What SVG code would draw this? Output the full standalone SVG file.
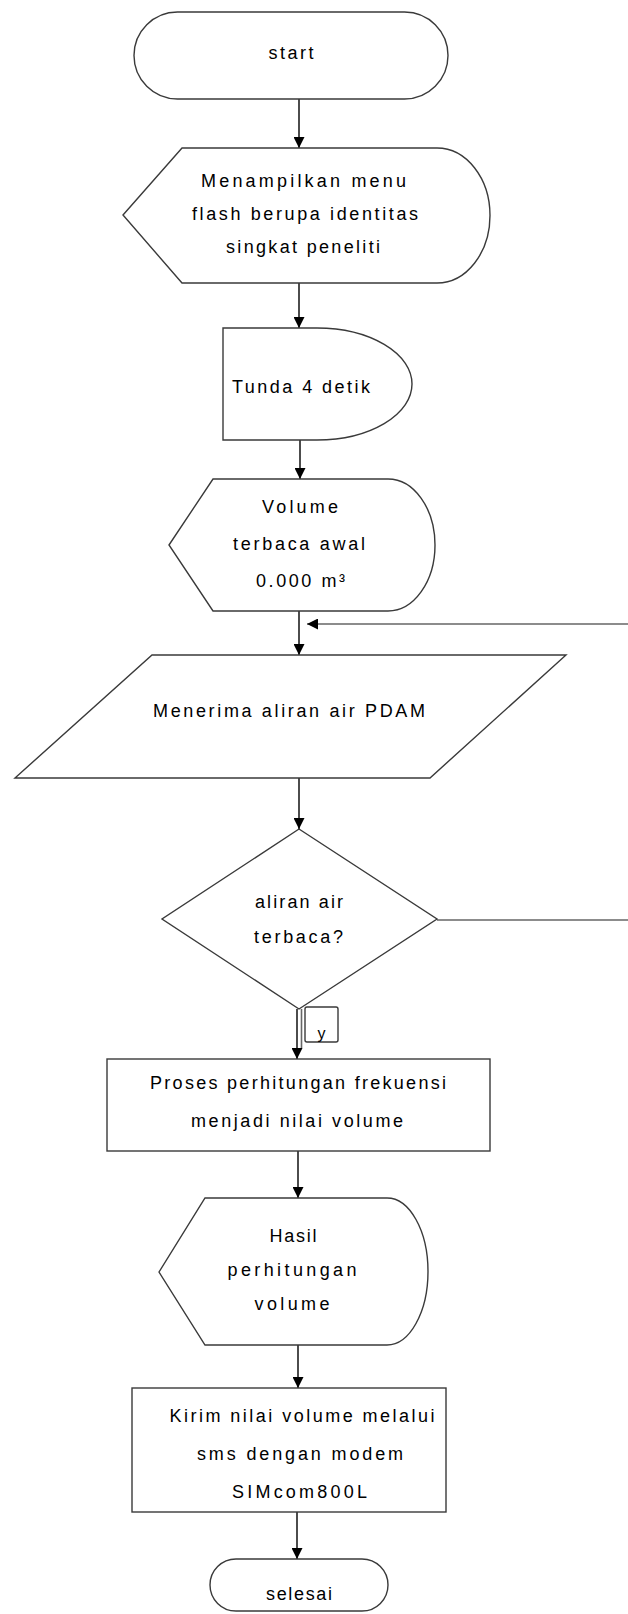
<svg xmlns="http://www.w3.org/2000/svg" width="628" height="1614" viewBox="0 0 628 1614">
<style>
.shape{fill:#fff;stroke:#3a3a3a;stroke-width:1.4}
.conn{fill:none;stroke:#000;stroke-width:1.4}
.grey{fill:none;stroke:#666;stroke-width:1.6}
text{font-family:"Liberation Sans",Arial,sans-serif;font-size:18px;fill:#000;text-anchor:middle}
.l{text-anchor:start}
</style>
<defs>
<marker id="arr" markerUnits="userSpaceOnUse" markerWidth="11" markerHeight="11" refX="11" refY="5.5" orient="auto">
<path d="M0,0 L11,5.5 L0,11 Z" fill="#000"/>
</marker>
</defs>
<rect width="628" height="1614" fill="#fff"/>
<g id="connectors">
<line class="conn" x1="299" y1="99" x2="299" y2="148" marker-end="url(#arr)"/>
<line class="conn" x1="299" y1="283" x2="299" y2="328" marker-end="url(#arr)"/>
<line class="conn" x1="300" y1="440" x2="300" y2="479" marker-end="url(#arr)"/>
<line class="conn" x1="299" y1="611" x2="299" y2="655" marker-end="url(#arr)"/>
<line class="grey" x1="628" y1="624" x2="307" y2="624" marker-end="url(#arr)"/>
<line class="conn" x1="299" y1="778" x2="299" y2="829" marker-end="url(#arr)"/>
<line class="grey" x1="437" y1="920" x2="628" y2="920"/>
<line class="conn" x1="297" y1="1009" x2="297" y2="1059" marker-end="url(#arr)"/>
<line class="grey" x1="301.5" y1="1009" x2="301.5" y2="1048"/>
<line class="conn" x1="298" y1="1151" x2="298" y2="1198" marker-end="url(#arr)"/>
<line class="conn" x1="298" y1="1345" x2="298" y2="1388" marker-end="url(#arr)"/>
<line class="conn" x1="297" y1="1512" x2="297" y2="1559" marker-end="url(#arr)"/>
</g>
<g id="start">
<rect class="shape" x="134" y="12" width="314" height="87" rx="43.5"/>
<text x="291" y="59" textLength="45" lengthAdjust="spacing">start</text>
</g>
<g id="display1">
<path class="shape" d="M123,215 L182,148 L437,148 A53,67.5 0 0 1 437,283 L182,283 Z"/>
<text x="303.5" y="187" textLength="205" lengthAdjust="spacing">Menampilkan menu</text>
<text x="305" y="220" textLength="226" lengthAdjust="spacing">flash berupa identitas</text>
<text x="303" y="253" textLength="154" lengthAdjust="spacing">singkat peneliti</text>
</g>
<g id="delay">
<path class="shape" d="M223,328 L317,328 A95,56 0 0 1 317,440 L223,440 Z"/>
<text class="l" x="232" y="393" textLength="138" lengthAdjust="spacing">Tunda 4 detik</text>
</g>
<g id="display2">
<path class="shape" d="M169,545 L213,479 L388,479 A47,66 0 0 1 388,611 L213,611 Z"/>
<text x="300" y="513" textLength="76" lengthAdjust="spacing">Volume</text>
<text x="299" y="550" textLength="132" lengthAdjust="spacing">terbaca awal</text>
<text x="300.5" y="587" textLength="89" lengthAdjust="spacing">0.000 m³</text>
</g>
<g id="input">
<path class="shape" d="M152,655 L566,655 L430,778 L15,778 Z"/>
<text x="289" y="717" textLength="272" lengthAdjust="spacing">Menerima aliran air PDAM</text>
</g>
<g id="decision">
<path class="shape" d="M299,829 L437,919 L299,1009 L162,919 Z"/>
<text x="299" y="908" textLength="88" lengthAdjust="spacing">aliran air</text>
<text x="298.5" y="943" textLength="89" lengthAdjust="spacing">terbaca?</text>
</g>
<g id="label-y">
<rect class="shape" x="305" y="1007" width="33" height="35" rx="2"/>
<text x="321.5" y="1039" style="font-size:16px">y</text>
</g>
<g id="process">
<rect class="shape" x="107" y="1059" width="383" height="92"/>
<text x="298" y="1089" textLength="296" lengthAdjust="spacing">Proses perhitungan frekuensi</text>
<text x="297" y="1127" textLength="212" lengthAdjust="spacing">menjadi nilai volume</text>
</g>
<g id="display3">
<path class="shape" d="M159,1272 L205,1198 L387,1198 A41,73.5 0 0 1 387,1345 L205,1345 Z"/>
<text x="293" y="1242" textLength="47" lengthAdjust="spacing">Hasil</text>
<text x="292" y="1276" textLength="129" lengthAdjust="spacing">perhitungan</text>
<text x="292" y="1310" textLength="75" lengthAdjust="spacing">volume</text>
</g>
<g id="send">
<rect class="shape" x="132" y="1388" width="314" height="124"/>
<text x="302" y="1422" textLength="265" lengthAdjust="spacing">Kirim nilai volume melalui</text>
<text x="300" y="1460" textLength="206" lengthAdjust="spacing">sms dengan modem</text>
<text x="299.5" y="1498" textLength="135" lengthAdjust="spacing">SIMcom800L</text>
</g>
<g id="end">
<rect class="shape" x="210" y="1559" width="178" height="52" rx="26"/>
<text x="299" y="1600" textLength="66" lengthAdjust="spacing">selesai</text>
</g>
</svg>
